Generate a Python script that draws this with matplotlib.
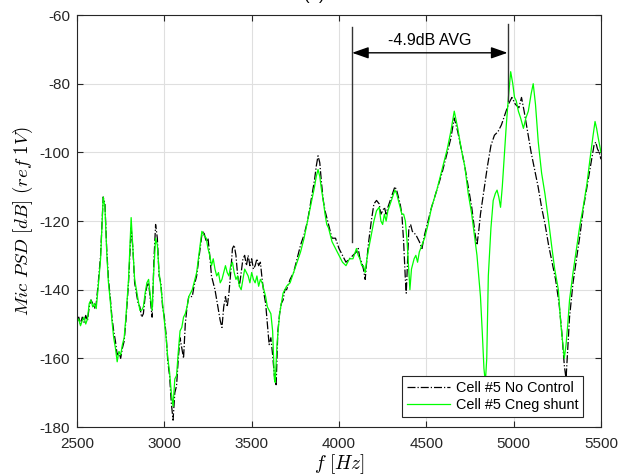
import matplotlib
matplotlib.use("Agg")
import matplotlib.pyplot as plt
import numpy as np

plt.rcParams['font.family'] = ['Liberation Sans', 'DejaVu Sans']
plt.rcParams['mathtext.fontset'] = 'cm'
plt.rcParams['axes.unicode_minus'] = False

# ---- data: No Control (black dash-dot) ----
f_nc = [2500, 2510, 2520, 2530, 2540, 2550, 2560, 2570, 2580, 2590, 2600, 2610, 2620, 2635, 2650, 2660,
        2670, 2680, 2690, 2700, 2710, 2720, 2730, 2740, 2750, 2760, 2770, 2780, 2795, 2810, 2820, 2830,
        2840, 2850, 2860, 2870, 2880, 2890, 2900, 2910, 2920, 2930, 2940, 2950, 2960, 2970, 2980, 2990,
        3000, 3010, 3020, 3030, 3040, 3050, 3060, 3070, 3080, 3090, 3100, 3110, 3120, 3130, 3140, 3160,
        3170, 3185, 3200, 3215, 3225, 3240, 3250, 3260, 3270, 3280, 3290, 3300, 3310, 3320, 3330, 3340,
        3350, 3360, 3370, 3380, 3390, 3400, 3410, 3420, 3430, 3440, 3450, 3460, 3470, 3480, 3490, 3500,
        3510, 3520, 3530, 3540, 3550, 3560, 3570, 3580, 3590, 3600, 3610, 3620, 3630, 3640, 3650, 3660,
        3670, 3680, 3690, 3700, 3720, 3740, 3760, 3780, 3800, 3820, 3840, 3860, 3870, 3880, 3890, 3900,
        3910, 3920, 3930, 3940, 3960, 3980, 4000, 4020, 4040, 4060, 4080, 4100, 4110, 4120, 4130, 4140,
        4150, 4160, 4170, 4185, 4200, 4215, 4230, 4240, 4250, 4260, 4270, 4280, 4300, 4320, 4330, 4340,
        4350, 4360, 4370, 4380, 4385, 4390, 4400, 4410, 4420, 4440, 4460, 4475, 4490, 4510, 4530, 4560,
        4590, 4620, 4640, 4660, 4680, 4700, 4720, 4740, 4760, 4780, 4790, 4800, 4810, 4830, 4850, 4870,
        4890, 4910, 4930, 4950, 4970, 4990, 5010, 5030, 5045, 5060, 5080, 5100, 5120, 5140, 5160, 5180,
        5200, 5220, 5240, 5260, 5275, 5290, 5300, 5310, 5320, 5340, 5360, 5380, 5400, 5420, 5440, 5460,
        5470, 5480, 5490, 5500]
db_nc = [-149, -148, -150, -148, -149.5, -147.5, -149, -145, -143, -144, -145.5, -144, -139, -130, -113, -115,
         -128, -137, -142, -148, -152, -155, -159, -158, -160, -157, -155, -149, -138, -122, -128, -138,
         -141, -144, -145, -148, -147, -142, -139, -138, -143, -148, -132, -121, -125, -136, -138, -145,
         -148, -153, -161, -165, -173, -178, -170, -168, -160, -154, -157, -160, -150, -145, -142, -142,
         -139, -136, -130, -124, -123, -126, -125, -130, -136, -138, -140, -143, -146, -149, -151, -145,
         -142, -145, -141, -135, -128, -127, -130, -136, -139, -135, -131, -130, -133, -130, -133, -131,
         -134, -133, -131, -133, -132, -137, -141, -144, -150, -156, -154, -159, -165, -168, -152, -147,
         -144, -143, -140, -140, -137, -135, -131, -127, -124, -120, -114, -108, -104, -101, -103, -109,
         -114, -117, -119, -121, -125, -125, -128, -130, -132, -131, -130, -129, -128, -131, -132, -134,
         -137, -131, -126, -120, -115, -114, -115, -118, -117, -116, -118, -116, -113, -110, -111, -113,
         -115, -118, -126, -137, -141, -135, -122, -121, -123, -124, -126, -128, -124, -120, -116, -111,
         -106, -100, -96, -90, -94, -99, -104, -110, -116, -124, -127, -123, -118, -111, -104, -98,
         -95, -94, -92, -89, -86, -84, -86, -87, -84, -88, -94, -100, -105, -110, -116, -121,
         -127, -132, -137, -144, -152, -162, -166, -157, -148, -138, -131, -124, -116, -110, -104, -98,
         -97, -99, -100, -102]

# ---- data: Cneg shunt (green solid) ----
f_cs = [2500, 2510, 2520, 2530, 2540, 2550, 2560, 2570, 2580, 2590, 2600, 2610, 2620, 2635, 2650, 2660,
        2670, 2680, 2690, 2700, 2710, 2720, 2730, 2740, 2750, 2760, 2770, 2780, 2795, 2810, 2820, 2830,
        2840, 2850, 2860, 2870, 2880, 2890, 2900, 2910, 2920, 2930, 2940, 2950, 2960, 2970, 2980, 2990,
        3000, 3010, 3020, 3030, 3040, 3050, 3060, 3070, 3080, 3090, 3100, 3110, 3120, 3130, 3140, 3160,
        3170, 3185, 3200, 3215, 3225, 3240, 3250, 3260, 3270, 3280, 3290, 3300, 3310, 3320, 3330, 3340,
        3350, 3360, 3370, 3380, 3390, 3400, 3410, 3420, 3430, 3440, 3450, 3460, 3470, 3480, 3490, 3500,
        3510, 3520, 3530, 3540, 3550, 3560, 3570, 3580, 3590, 3600, 3610, 3620, 3630, 3635, 3645, 3660,
        3670, 3680, 3690, 3700, 3720, 3740, 3760, 3780, 3800, 3820, 3840, 3860, 3870, 3880, 3890, 3900,
        3910, 3920, 3930, 3940, 3960, 3980, 4000, 4020, 4040, 4060, 4080, 4100, 4110, 4120, 4130, 4140,
        4150, 4160, 4170, 4185, 4200, 4215, 4230, 4240, 4250, 4260, 4270, 4280, 4300, 4320, 4330, 4340,
        4350, 4360, 4370, 4380, 4390, 4400, 4406, 4415, 4430, 4440, 4450, 4460, 4475, 4490, 4510, 4530,
        4560, 4590, 4620, 4640, 4660, 4680, 4700, 4720, 4740, 4760, 4780, 4790, 4800, 4810, 4820, 4830,
        4838, 4846, 4855, 4870, 4883, 4895, 4905, 4915, 4925, 4935, 4945, 4958, 4970, 4983, 4995, 5005,
        5015, 5027, 5040, 5056, 5070, 5084, 5100, 5112, 5125, 5141, 5160, 5179, 5200, 5217, 5235, 5256,
        5270, 5280, 5290, 5300, 5310, 5320, 5340, 5360, 5380, 5398, 5420, 5437, 5455, 5466, 5475, 5485,
        5500]
db_cs = [-149.5, -148.5, -150.5, -149, -148, -150, -148.5, -144, -143, -145, -144, -145.5, -140, -131, -113, -116,
         -129, -138, -143, -149, -154, -157, -161, -158, -159, -156, -154, -148, -137, -119, -128, -137,
         -140, -143, -146, -146, -145, -141, -138, -137, -142, -146, -134, -125, -127, -135, -139, -144,
         -149, -154, -160, -164, -170, -174, -166, -165, -158, -152, -151, -148, -147, -145, -142, -140,
         -138, -135, -129, -123, -124, -125, -128, -130, -133, -131, -134, -136, -135, -138, -137, -135,
         -133, -135, -136, -133, -132, -135, -137, -136, -139, -140, -137, -134, -135, -136, -138, -135,
         -137, -138, -136, -139, -137, -138, -140, -142, -145, -146, -147, -152, -166, -167, -156, -147,
         -144, -141, -140, -139, -138, -135, -132, -129, -125, -120, -115, -110, -107, -105, -107, -111,
         -114, -118, -121, -122, -126, -128, -130, -132, -133, -131, -131, -128, -130, -131, -133, -133,
         -135, -131, -128, -124, -120, -117, -116, -120, -121, -118, -120, -117, -114, -111, -112, -114,
         -116, -118, -118, -120, -126, -135, -140, -134, -131, -130, -132, -129, -127, -125, -121, -116,
         -111, -105, -99, -94, -88, -93, -99, -104, -112, -118, -126, -130, -136, -142, -152, -163,
         -167, -160, -136, -122, -114, -112, -111, -113, -116, -110, -102, -92, -84, -76.5, -80, -84,
         -85, -88, -90, -93, -90, -88, -83, -80, -86, -97, -106, -112, -120, -127, -134, -140,
         -150, -155, -160, -156, -150, -143, -135, -128, -121, -116, -109, -102, -95, -91, -93, -96,
         -100]

x_ticks = [2500, 3000, 3500, 4000, 4500, 5000, 5500]
y_ticks = [-180, -160, -140, -120, -100, -80, -60]

fig = plt.figure(figsize=(6.24, 4.76), dpi=100)
ax = fig.add_axes([0.1234, 0.1029, 0.8397, 0.8655])

ax.plot(f_nc, db_nc, color='black', linestyle='-.', linewidth=0.9, label='Cell #5 No Control')
ax.plot(f_cs, db_cs, color='#00ff00', linestyle='-', linewidth=0.9, label='Cell #5 Cneg shunt')

ax.set_xlim(2500, 5500)
ax.set_ylim(-180, -60)
ax.set_xticks(x_ticks)
ax.set_yticks(y_ticks)
ax.tick_params(direction='in', labelsize=11, length=4, width=0.8, colors='#262626',
               top=True, right=True)
ax.tick_params(axis='x', pad=7)
ax.tick_params(axis='y', pad=5)
ax.grid(True, color='#dfdfdf', linewidth=0.8)
ax.set_axisbelow(True)
for s in ax.spines.values():
    s.set_color('#262626')
    s.set_linewidth(0.8)

ax.set_xlabel(r'$f\ [Hz]$', fontsize=14, labelpad=1)
ax.set_ylabel(r'$Mic\ PSD\ [dB]\ (ref\ 1V)$', fontsize=13.5, labelpad=3)

# annotation: averaged reduction band
ax.plot([4075, 4075], [-63.5, -126], color='#333333', linewidth=1.0)
ax.plot([4965, 4965], [-62.5, -85], color='#333333', linewidth=1.0)
ax.annotate('', xy=(4965, -71), xytext=(4075, -71),
            arrowprops=dict(arrowstyle='<|-|>,head_length=1.0,head_width=0.35',
                            color='black', lw=1.0, shrinkA=0, shrinkB=0))
ax.text(4520, -67.5, '-4.9dB AVG', ha='center', va='center', fontsize=11.5)

leg = ax.legend(loc='lower right', bbox_to_anchor=(0.965, 0.025), fontsize=10.4,
                frameon=True, fancybox=False, edgecolor='#262626', framealpha=1,
                handlelength=3.0, borderpad=0.3, labelspacing=0.25, handletextpad=0.4,
                borderaxespad=0)
leg.get_frame().set_linewidth(0.8)

fig.text(314 / 624, 1.0 - 0.3 / 476, '(a)', ha='center', va='baseline', fontsize=12)

fig.savefig('out.png', dpi=100)
